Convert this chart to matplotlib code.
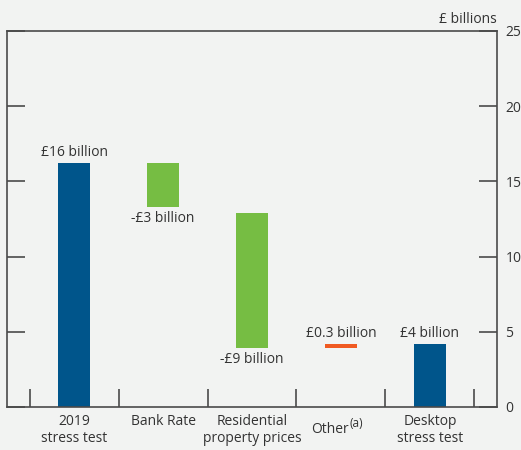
import matplotlib.pyplot as plt
from matplotlib.ticker import FixedLocator

# Waterfall of stress-test losses
categories = ["2019\nstress test", "Bank Rate", "Residential\nproperty prices",
              "Other", "Desktop\nstress test"]
footnote_marks = ["", "", "", "(a)", ""]
bar_bottoms = [0.0, 13.3, 3.9, 3.9, 0.0]
bar_tops = [16.2, 16.2, 12.9, 4.2, 4.2]
bar_labels = ["£16 billion", "-£3 billion", "-£9 billion", "£0.3 billion", "£4 billion"]
label_above = [True, False, False, True, True]
y_ticks = [0, 5, 10, 15, 20, 25]

navy = "#00558b"
green = "#76bd43"
orange = "#f05a22"
bar_colors = [navy, green, green, orange, navy]
bg = "#f2f3f2"
frame = "#4a4a4a"
text_col = "#333333"
fs = 10

plt.rcParams["font.family"] = ["Open Sans", "DejaVu Sans"]

fig = plt.figure(figsize=(5.21, 4.5), dpi=100, facecolor=bg)
ax = fig.add_axes([7 / 521, 1 - 407 / 450, 490 / 521, 376 / 450])
ax.set_facecolor(bg)

x = list(range(len(categories)))
heights = [t - b for t, b in zip(bar_tops, bar_bottoms)]
ax.bar(x, heights, bottom=bar_bottoms, width=0.35, color=bar_colors, zorder=2)

for i, (lab, above) in enumerate(zip(bar_labels, label_above)):
    if above:
        ax.text(i, bar_tops[i] + 0.2, lab, ha="center", va="bottom",
                fontsize=fs, color=text_col)
    else:
        ax.text(i, bar_bottoms[i] - 0.25, lab, ha="center", va="top",
                fontsize=fs, color=text_col)

ax.set_xlim(-0.753, 4.753)
ax.set_ylim(0, 25)

for s in ax.spines.values():
    s.set_color(frame)
    s.set_linewidth(1.2)

# x: category labels (those with a footnote mark are drawn by hand)
ax.set_xticks(x)
ax.set_xticklabels([c if not m else "" for c, m in zip(categories, footnote_marks)],
                   fontsize=fs, color=text_col, linespacing=1.2)
ax.tick_params(axis="x", which="major", length=0, pad=5)
for i, (c, m) in enumerate(zip(categories, footnote_marks)):
    if m:
        ax.annotate(c, xy=(i, 0), xycoords=("data", "axes fraction"),
                    xytext=(5.8, -18.7), textcoords="offset points",
                    ha="right", va="baseline", fontsize=fs, color=text_col)
        ax.annotate(m, xy=(i, 0), xycoords=("data", "axes fraction"),
                    xytext=(6.4, -14.6), textcoords="offset points",
                    ha="left", va="baseline", fontsize=8.5, color=text_col)

# short separator ticks between categories
ax.xaxis.set_minor_locator(FixedLocator([-0.5, 0.5, 1.5, 2.5, 3.5, 4.5]))
ax.tick_params(axis="x", which="minor", direction="in", length=13,
               width=1.2, color=frame)

# y: labels on the right, ticks inward on both sides
ax.set_yticks(y_ticks)
ax.tick_params(axis="y", direction="in", length=13, width=1.2, color=frame,
               left=True, right=True, labelleft=False, labelright=True,
               labelsize=fs, labelcolor=text_col, pad=6)

ax.text(1.0, 1.01, "£ billions", transform=ax.transAxes, ha="right",
        va="bottom", fontsize=fs, color=text_col)

fig.savefig("out.png", dpi=100, facecolor=bg)
